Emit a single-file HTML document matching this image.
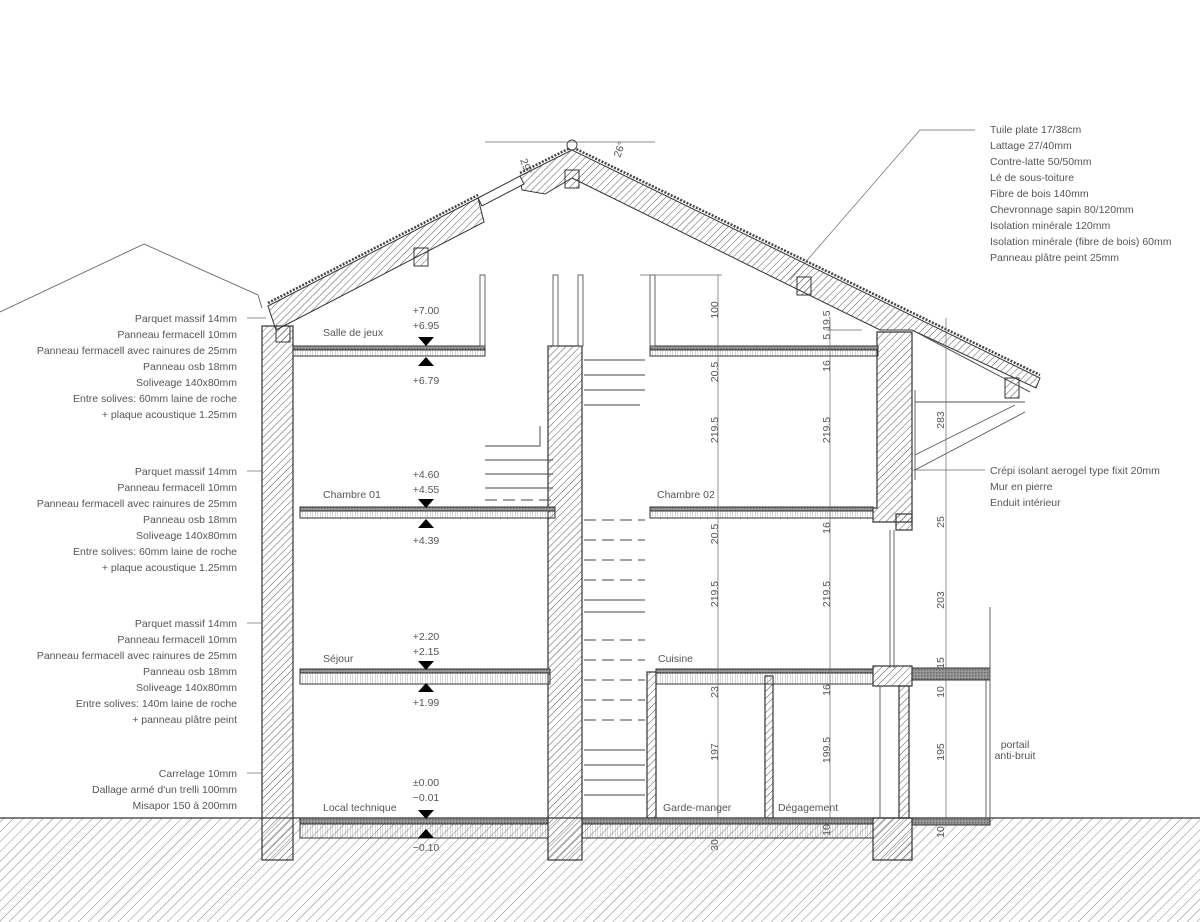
<!DOCTYPE html>
<html><head><meta charset="utf-8"><style>
html,body{margin:0;padding:0;background:#fff}
svg{display:block}
text{font-family:"Liberation Sans Narrow","Liberation Sans",sans-serif;font-size:10.5px;fill:#555}
.r{text-anchor:end}.m{text-anchor:middle}
</style></head><body>
<svg width="1200" height="922" viewBox="0 0 1200 922" xmlns="http://www.w3.org/2000/svg">
<defs>
<pattern id="h" width="5" height="5" patternUnits="userSpaceOnUse" patternTransform="rotate(45)"><line x1="0" y1="0" x2="0" y2="5" stroke="#444" stroke-width="0.9"/></pattern>
<pattern id="g" width="7" height="7" patternUnits="userSpaceOnUse" patternTransform="rotate(45)"><line x1="0" y1="0" x2="0" y2="7" stroke="#666" stroke-width="0.8"/></pattern>
<pattern id="v" width="2.5" height="4" patternUnits="userSpaceOnUse"><line x1="0" y1="0" x2="0" y2="4" stroke="#777" stroke-width="0.6"/></pattern>
<pattern id="d" width="3" height="3" patternUnits="userSpaceOnUse"><rect width="3" height="3" fill="#999"/><rect width="1.5" height="1.5" fill="#666"/></pattern>
</defs>
<rect x="0" y="818" width="1200" height="104" fill="url(#g)"/>
<line x1="0" y1="818" x2="1200" y2="818" stroke="#333" stroke-width="1.2"/>
<polyline points="0,312 144,244 258,295 262,308" fill="none" stroke="#666" stroke-width="0.9"/>
<g stroke="#333" stroke-width="1">
<polygon points="268,306 478,198 484,222 276,330" fill="url(#h)"/>
<polygon points="520,176 572,150 1040,378 1036,388 912,330 880,330 572,178 545,194 522,190" fill="url(#h)"/>
<polygon points="478,198 520,176 524,184 482,206" fill="#fff"/>
</g>
<polyline points="268,303 478,195" stroke="#444" stroke-width="2.5" stroke-dasharray="2 1.5" fill="none"/>
<polyline points="520,173 572,147 1040,375" stroke="#444" stroke-width="2.5" stroke-dasharray="2 1.5" fill="none"/>
<circle cx="572" cy="145" r="5" fill="#fff" stroke="#444"/>
<line x1="912" y1="330" x2="1030" y2="392" stroke="#555"/>
<line x1="485" y1="142" x2="655" y2="142" stroke="#666" stroke-width="0.7"/>
<text x="520" y="160" transform="rotate(70 520 160)">29°</text>
<text x="620" y="158" transform="rotate(-70 620 158)">26°</text>
<g fill="url(#h)" stroke="#333">
<rect x="414" y="248" width="14" height="18"/><rect x="565" y="170" width="14" height="18"/>
<rect x="797" y="277" width="14" height="18"/><rect x="1005" y="378" width="14" height="20"/>
<rect x="276" y="326" width="14" height="16"/>
</g>
<g fill="url(#h)" stroke="#333" stroke-width="1.2">
<rect x="262" y="326" width="31" height="534"/>
<rect x="548" y="346" width="34" height="514"/>
<polygon points="877,332 912,332 912,522 873,522 873,508 877,508"/>
<rect x="896" y="514" width="16" height="16"/>
<rect x="873" y="666" width="39" height="20"/>
<rect x="873" y="818" width="39" height="42"/>
<rect x="899" y="686" width="10" height="132"/>
<rect x="647" y="672" width="9" height="146"/>
<rect x="765" y="676" width="8" height="142"/>
</g>
<g stroke="#333" stroke-width="1">
<rect x="293" y="346" width="192" height="4" fill="url(#d)"/><rect x="293" y="350" width="192" height="6" fill="url(#v)"/>
<rect x="650" y="346" width="228" height="4" fill="url(#d)"/><rect x="650" y="350" width="228" height="6" fill="url(#v)"/>
<rect x="300" y="507" width="255" height="4" fill="url(#d)"/><rect x="300" y="511" width="255" height="7" fill="url(#v)"/>
<rect x="650" y="507" width="223" height="4" fill="url(#d)"/><rect x="650" y="511" width="223" height="7" fill="url(#v)"/>
<rect x="300" y="669" width="250" height="4" fill="url(#d)"/><rect x="300" y="673" width="250" height="11" fill="url(#v)"/>
<rect x="656" y="669" width="217" height="4" fill="url(#d)"/><rect x="656" y="673" width="217" height="11" fill="url(#v)"/>
<rect x="300" y="818" width="248" height="6" fill="url(#d)"/><rect x="300" y="824" width="248" height="14" fill="url(#v)"/>
<rect x="582" y="818" width="291" height="6" fill="url(#d)"/><rect x="582" y="824" width="291" height="14" fill="url(#v)"/>
<rect x="912" y="668" width="78" height="12" fill="url(#d)"/>
<rect x="912" y="818" width="78" height="7" fill="url(#d)"/>
</g>
<g stroke="#555" stroke-width="0.9" fill="none">
<rect x="480" y="275" width="5" height="71"/><rect x="553" y="275" width="5" height="71"/><rect x="578" y="275" width="5" height="71"/><rect x="650" y="275" width="5" height="71"/>
<line x1="990" y1="607" x2="990" y2="818"/><line x1="986" y1="680" x2="986" y2="818"/>
<line x1="890" y1="530" x2="890" y2="668"/><line x1="894" y1="530" x2="894" y2="668"/>
<line x1="880" y1="686" x2="880" y2="818"/>
<line x1="915" y1="455" x2="1015" y2="405"/><line x1="915" y1="470" x2="1025" y2="412"/>
<line x1="915" y1="402" x2="1025" y2="402"/>
<line x1="915" y1="390" x2="915" y2="480"/>
</g>
<g stroke="#444" stroke-width="0.9" fill="none">
<path d="M485,460 H553 M485,446 H540 V426 M485,474 H553 M485,488 H553"/>
<path d="M584,360 H645 M584,375 H645 M584,390 H645 M584,405 H640 M584,600 H645 M584,612 H645 M584,750 H645 M584,765 H645 M584,780 H645 M584,795 H645"/>
<path d="M584,640 H645 M584,660 H645 M584,680 H645 M584,700 H645 M584,720 H645 M485,500 H553 M584,520 H645 M584,540 H645 M584,560 H645 M584,580 H645" stroke-dasharray="12 6"/>
</g>
<g stroke="#666" stroke-width="0.7">
<line x1="718" y1="275" x2="718" y2="818"/><line x1="830" y1="318" x2="830" y2="818"/><line x1="946" y1="318" x2="946" y2="818"/>
<line x1="640" y1="275" x2="722" y2="275"/><line x1="826" y1="330" x2="862" y2="330"/>
</g>
<g fill="#555" font-size="10">
<text x="718" y="310" transform="rotate(-90 718 310)" class="m">100</text>
<text x="718" y="372" transform="rotate(-90 718 372)" class="m">20.5</text>
<text x="718" y="430" transform="rotate(-90 718 430)" class="m">219.5</text>
<text x="718" y="534" transform="rotate(-90 718 534)" class="m">20.5</text>
<text x="718" y="594" transform="rotate(-90 718 594)" class="m">219.5</text>
<text x="718" y="692" transform="rotate(-90 718 692)" class="m">23</text>
<text x="718" y="752" transform="rotate(-90 718 752)" class="m">197</text>
<text x="718" y="845" transform="rotate(-90 718 845)" class="m">30</text>
<text x="830" y="325" transform="rotate(-90 830 325)" class="m">5 19.5</text>
<text x="830" y="366" transform="rotate(-90 830 366)" class="m">16</text>
<text x="830" y="430" transform="rotate(-90 830 430)" class="m">219.5</text>
<text x="830" y="528" transform="rotate(-90 830 528)" class="m">16</text>
<text x="830" y="594" transform="rotate(-90 830 594)" class="m">219.5</text>
<text x="830" y="690" transform="rotate(-90 830 690)" class="m">16</text>
<text x="830" y="750" transform="rotate(-90 830 750)" class="m">199.5</text>
<text x="830" y="830" transform="rotate(-90 830 830)" class="m">10</text>
<text x="944" y="420" transform="rotate(-90 944 420)" class="m">283</text>
<text x="944" y="522" transform="rotate(-90 944 522)" class="m">25</text>
<text x="944" y="600" transform="rotate(-90 944 600)" class="m">203</text>
<text x="944" y="663" transform="rotate(-90 944 663)" class="m">15</text>
<text x="944" y="692" transform="rotate(-90 944 692)" class="m">10</text>
<text x="944" y="752" transform="rotate(-90 944 752)" class="m">195</text>
<text x="944" y="832" transform="rotate(-90 944 832)" class="m">10</text>
</g>
<text x="1015" y="748" class="m" font-size="8">portail</text>
<text x="1015" y="759" class="m" font-size="8">anti-bruit</text>
<g fill="#000">
<polygon points="418,337 434,337 426,346"/><polygon points="418,366 434,366 426,357"/>
<polygon points="418,499 434,499 426,508"/><polygon points="418,528 434,528 426,519"/>
<polygon points="418,661 434,661 426,670"/><polygon points="418,692 434,692 426,683"/>
<polygon points="418,810 434,810 426,819"/><polygon points="418,838 434,838 426,829"/>
</g>
<g>
<text x="426" y="314" class="m">+7.00</text><text x="426" y="329" class="m">+6.95</text><text x="426" y="384" class="m">+6.79</text>
<text x="426" y="478" class="m">+4.60</text><text x="426" y="493" class="m">+4.55</text><text x="426" y="544" class="m">+4.39</text>
<text x="426" y="640" class="m">+2.20</text><text x="426" y="655" class="m">+2.15</text><text x="426" y="706" class="m">+1.99</text>
<text x="426" y="786" class="m">±0.00</text><text x="426" y="801" class="m">−0.01</text><text x="426" y="851" class="m">−0.10</text>
</g>
<text x="323" y="336">Salle de jeux</text><text x="323" y="498">Chambre 01</text><text x="657" y="498">Chambre 02</text>
<text x="323" y="662">Séjour</text><text x="658" y="662">Cuisine</text><text x="323" y="811">Local technique</text>
<text x="663" y="811">Garde-manger</text><text x="778" y="811">Dégagement</text>
<g stroke="#666" stroke-width="0.7"><line x1="247" y1="318" x2="266" y2="318"/><line x1="247" y1="471" x2="262" y2="471"/><line x1="247" y1="623" x2="262" y2="623"/><line x1="247" y1="773" x2="262" y2="773"/>
<polyline points="975,130 920,130 790,280" fill="none"/><line x1="912" y1="470" x2="985" y2="470"/></g>
<g>
<text class="r" x="237" y="322">Parquet massif 14mm</text><text class="r" x="237" y="338">Panneau fermacell 10mm</text><text class="r" x="237" y="354">Panneau fermacell avec rainures de 25mm</text><text class="r" x="237" y="370">Panneau osb 18mm</text><text class="r" x="237" y="386">Soliveage 140x80mm</text><text class="r" x="237" y="402">Entre solives: 60mm laine de roche</text><text class="r" x="237" y="418">+ plaque acoustique 1.25mm</text>
<text class="r" x="237" y="475">Parquet massif 14mm</text><text class="r" x="237" y="491">Panneau fermacell 10mm</text><text class="r" x="237" y="507">Panneau fermacell avec rainures de 25mm</text><text class="r" x="237" y="523">Panneau osb 18mm</text><text class="r" x="237" y="539">Soliveage 140x80mm</text><text class="r" x="237" y="555">Entre solives: 60mm laine de roche</text><text class="r" x="237" y="571">+ plaque acoustique 1.25mm</text>
<text class="r" x="237" y="627">Parquet massif 14mm</text><text class="r" x="237" y="643">Panneau fermacell 10mm</text><text class="r" x="237" y="659">Panneau fermacell avec rainures de 25mm</text><text class="r" x="237" y="675">Panneau osb 18mm</text><text class="r" x="237" y="691">Soliveage 140x80mm</text><text class="r" x="237" y="707">Entre solives: 140m laine de roche</text><text class="r" x="237" y="723">+ panneau plâtre peint</text>
<text class="r" x="237" y="777">Carrelage 10mm</text><text class="r" x="237" y="793">Dallage armé d'un trelli 100mm</text><text class="r" x="237" y="809">Misapor 150 à 200mm</text>
<text x="990" y="133">Tuile plate 17/38cm</text><text x="990" y="149">Lattage 27/40mm</text><text x="990" y="165">Contre-latte 50/50mm</text><text x="990" y="181">Lé de sous-toiture</text><text x="990" y="197">Fibre de bois 140mm</text><text x="990" y="213">Chevronnage sapin 80/120mm</text><text x="990" y="229">Isolation minérale 120mm</text><text x="990" y="245">Isolation minérale (fibre de bois) 60mm</text><text x="990" y="261">Panneau plâtre peint 25mm</text>
<text x="990" y="474">Crépi isolant aerogel type fixit 20mm</text><text x="990" y="490">Mur en pierre</text><text x="990" y="506">Enduit intérieur</text>
</g>
</svg>
</body></html>
